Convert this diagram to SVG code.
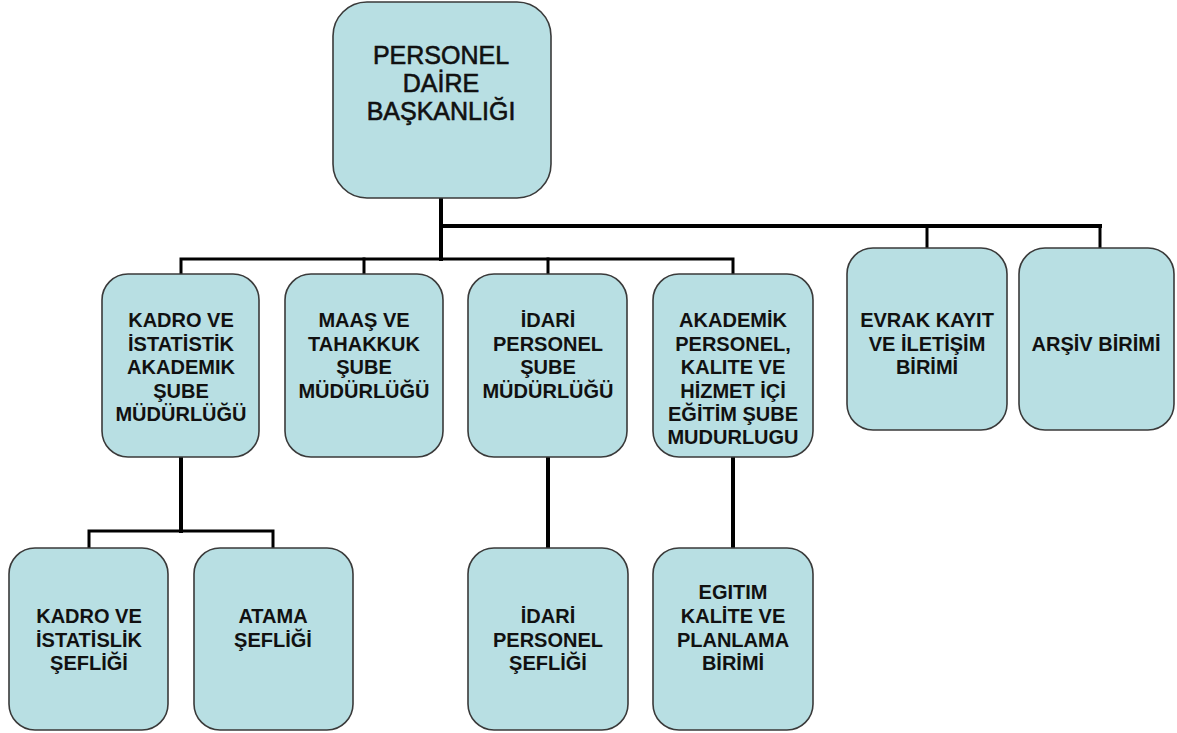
<svg xmlns="http://www.w3.org/2000/svg" width="1177" height="733" viewBox="0 0 1177 733">
  <style>
    .box { fill: #B8DFE3; stroke: #3a3a3a; stroke-width: 1.6; }
    .lbl { font-family: "Liberation Sans", Arial, sans-serif; font-weight: bold; font-size: 20px; fill: #111; text-anchor: middle; }
    .top { font-family: "Liberation Sans", Arial, sans-serif; font-size: 25px; fill: #111; stroke: #111; stroke-width: 0.6; text-anchor: middle; }
    .wire { fill: none; stroke: #000; stroke-width: 3; stroke-linejoin: miter; stroke-linecap: square; }
    .wire-thick { fill: none; stroke: #000; stroke-width: 4; stroke-linecap: square; }
  </style>
  <rect width="1177" height="733" fill="#ffffff"/>

  <!-- connectors -->
  <g id="connectors">
    <line class="wire-thick" x1="441" y1="198" x2="441" y2="259"/>
    <polyline class="wire-thick" points="441,226 1100,226"/>
    <polyline class="wire" points="927,226 927,248"/>
    <polyline class="wire" points="1100,226 1100,248"/>
    <polyline class="wire" points="181,274 181,259 733,259 733,274"/>
    <line class="wire" x1="364" y1="259" x2="364" y2="274"/>
    <line class="wire" x1="548" y1="259" x2="548" y2="274"/>
    <line class="wire-thick" x1="181" y1="457" x2="181" y2="531"/>
    <polyline class="wire" points="89,548 89,531 273,531 273,548"/>
    <line class="wire-thick" x1="548" y1="457" x2="548" y2="548"/>
    <line class="wire-thick" x1="733" y1="457" x2="733" y2="548"/>
  </g>

  <!-- head office -->
  <g id="personel-daire-baskanligi">
    <rect class="box" x="333" y="2" width="218" height="196" rx="34"/>
    <text class="top" x="441" y="64">PERSONEL</text>
    <text class="top" x="441" y="92">DAİRE</text>
    <text class="top" x="441" y="120">BAŞKANLIĞI</text>
  </g>

  <!-- branch directorates -->
  <g id="kadro-istatistik">
    <rect class="box" x="102" y="274" width="157" height="183" rx="26"/>
    <text class="lbl" x="181" y="327">KADRO VE</text>
    <text class="lbl" x="181" y="350.5">İSTATİSTİK</text>
    <text class="lbl" x="181" y="374">AKADEMIK</text>
    <text class="lbl" x="181" y="397.5">ŞUBE</text>
    <text class="lbl" x="181" y="421">MÜDÜRLÜĞÜ</text>
  </g>
  <g id="maas-tahakkuk">
    <rect class="box" x="285" y="274" width="158" height="183" rx="26"/>
    <text class="lbl" x="364" y="327">MAAŞ VE</text>
    <text class="lbl" x="364" y="350.5">TAHAKKUK</text>
    <text class="lbl" x="364" y="374">ŞUBE</text>
    <text class="lbl" x="364" y="397.5">MÜDÜRLÜĞÜ</text>
  </g>
  <g id="idari-personel">
    <rect class="box" x="468" y="274" width="159" height="183" rx="26"/>
    <text class="lbl" x="548" y="327">İDARİ</text>
    <text class="lbl" x="548" y="350.5">PERSONEL</text>
    <text class="lbl" x="548" y="374">ŞUBE</text>
    <text class="lbl" x="548" y="397.5">MÜDÜRLÜĞÜ</text>
  </g>
  <g id="akademik-personel">
    <rect class="box" x="653" y="274" width="160" height="183" rx="26"/>
    <text class="lbl" x="733" y="327">AKADEMİK</text>
    <text class="lbl" x="733" y="350.5">PERSONEL,</text>
    <text class="lbl" x="733" y="374">KALITE VE</text>
    <text class="lbl" x="733" y="397.5">HİZMET İÇİ</text>
    <text class="lbl" x="733" y="421">EĞİTİM ŞUBE</text>
    <text class="lbl" x="733" y="444">MUDURLUGU</text>
  </g>
  <g id="evrak-kayit">
    <rect class="box" x="847" y="248" width="160" height="182" rx="26"/>
    <text class="lbl" x="927" y="327">EVRAK KAYIT</text>
    <text class="lbl" x="927" y="350.5">VE İLETİŞİM</text>
    <text class="lbl" x="927" y="374">BİRİMİ</text>
  </g>
  <g id="arsiv-birimi">
    <rect class="box" x="1019" y="248" width="155" height="182" rx="26"/>
    <text class="lbl" x="1096" y="350.5">ARŞİV BİRİMİ</text>
  </g>

  <!-- sub units -->
  <g id="kadro-istatislik-sefligi">
    <rect class="box" x="9" y="548" width="159" height="182" rx="26"/>
    <text class="lbl" x="89" y="623">KADRO VE</text>
    <text class="lbl" x="89" y="646.5">İSTATİSLİK</text>
    <text class="lbl" x="89" y="670">ŞEFLİĞİ</text>
  </g>
  <g id="atama-sefligi">
    <rect class="box" x="194" y="548" width="159" height="182" rx="26"/>
    <text class="lbl" x="273" y="623">ATAMA</text>
    <text class="lbl" x="273" y="646.5">ŞEFLİĞİ</text>
  </g>
  <g id="idari-personel-sefligi">
    <rect class="box" x="468" y="548" width="160" height="182" rx="26"/>
    <text class="lbl" x="548" y="623">İDARİ</text>
    <text class="lbl" x="548" y="646.5">PERSONEL</text>
    <text class="lbl" x="548" y="670">ŞEFLİĞİ</text>
  </g>
  <g id="egitim-kalite-planlama">
    <rect class="box" x="653" y="548" width="160" height="182" rx="26"/>
    <text class="lbl" x="733" y="599">EGITIM</text>
    <text class="lbl" x="733" y="623">KALİTE VE</text>
    <text class="lbl" x="733" y="646.5">PLANLAMA</text>
    <text class="lbl" x="733" y="670">BİRİMİ</text>
  </g>
</svg>
